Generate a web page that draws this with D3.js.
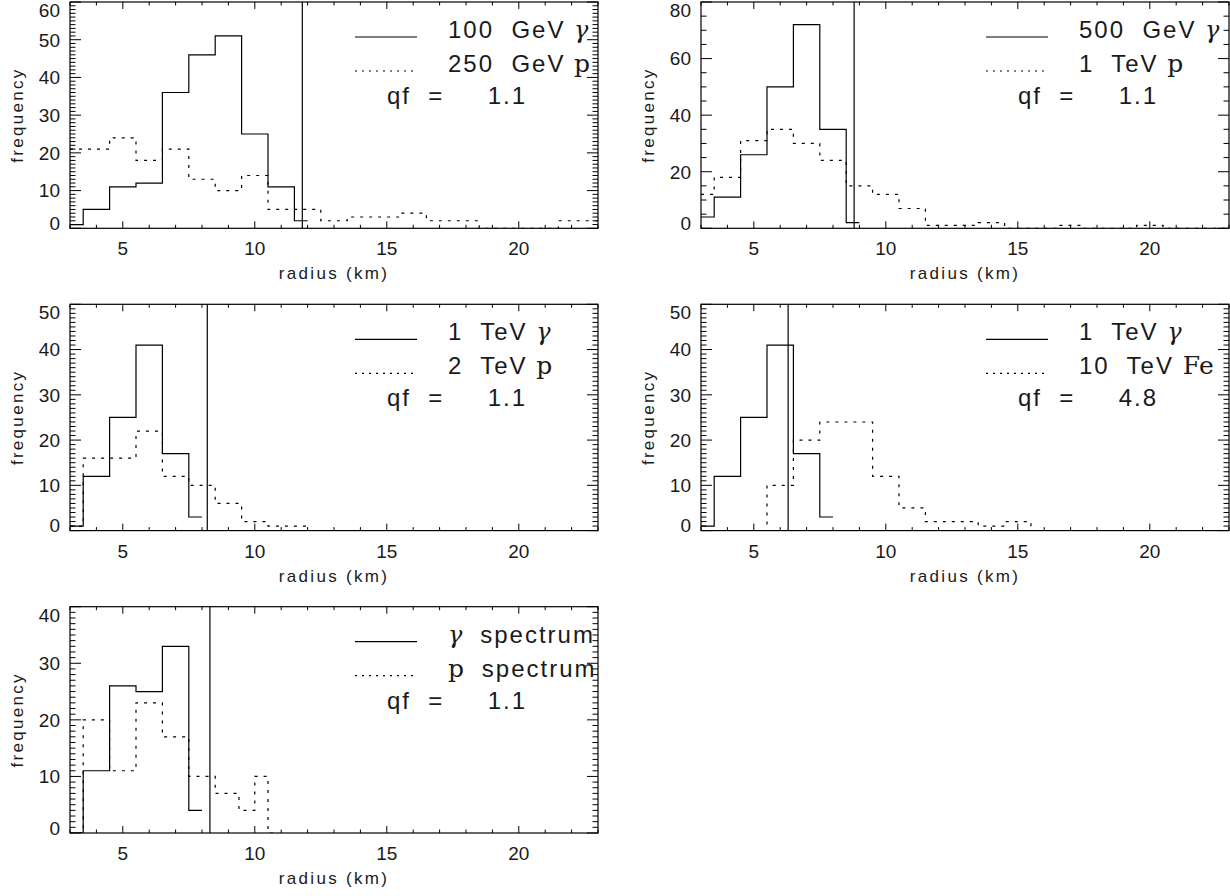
<!DOCTYPE html>
<html>
<head>
<meta charset="utf-8">
<script src="https://cdn.jsdelivr.net/npm/d3@7"></script>
<style>
	body { margin: 0; background: #fff; }
	svg text { font-family: "Liberation Sans", Arial, sans-serif; fill: #1a1a1a; }
</style>
</head>
<body>
<div id="chart"></div>
<script>
// radius axis (km), same for every panel
const radiusDomain = [3, 23];
const radiusTicks = [5, 10, 15, 20];

// panel 1: 100 GeV gamma vs 250 GeV proton
const p1GammaX = [3, 4, 5, 6, 7, 8, 9, 10, 11, 12];
const p1Gamma = [1, 5, 11, 12, 36, 46, 51, 25, 11, 2];
const p1HadronX = [3, 4, 5, 6, 7, 8, 9, 10, 11, 12, 13, 14, 15, 16, 17, 18, 19, 20, 21, 22, 23];
const p1Hadron = [21, 21, 24, 18, 21, 13, 10, 14, 5, 5, 2, 3, 3, 4, 2, 2, 0, 0, 0, 2, 2];
const p1Cut = 11.8;

// panel 2: 500 GeV gamma vs 1 TeV proton
const p2GammaX = [3, 4, 5, 6, 7, 8, 9];
const p2Gamma = [4, 11, 26, 50, 72, 35, 2];
const p2HadronX = [3, 4, 5, 6, 7, 8, 9, 10, 11, 12, 13, 14, 15, 16, 17, 18, 19, 20, 21, 22, 23];
const p2Hadron = [12, 18, 31, 35, 30, 24, 15, 12, 7, 1, 1, 2, 0, 0, 1, 0, 0, 1, 0, 0, 0];
const p2Cut = 8.8;

// panel 3: 1 TeV gamma vs 2 TeV proton
const p3GammaX = [3, 4, 5, 6, 7, 8];
const p3Gamma = [1, 12, 25, 41, 17, 3];
const p3HadronX = [3, 4, 5, 6, 7, 8, 9, 10, 11, 12];
const p3Hadron = [1, 16, 16, 22, 12, 10, 6, 2, 1, 1];
const p3Cut = 8.2;

// panel 4: 1 TeV gamma vs 10 TeV iron
const p4GammaX = [3, 4, 5, 6, 7, 8];
const p4Gamma = [1, 12, 25, 41, 17, 3];
const p4HadronX = [3, 4, 5, 6, 7, 8, 9, 10, 11, 12, 13, 14, 15, 16];
const p4Hadron = [0, 0, 0, 10, 20, 24, 24, 12, 5, 2, 2, 1, 2, 0];
const p4Cut = 6.3;

// panel 5: gamma spectrum vs proton spectrum
const p5GammaX = [3, 4, 5, 6, 7, 8];
const p5Gamma = [0, 11, 26, 25, 33, 4];
const p5HadronX = [3, 4, 5, 6, 7, 8, 9, 9.8, 10.2, 10.8];
const p5Hadron = [0, 20, 11, 23, 17, 10, 7, 4, 10, 0];
const p5Cut = 8.3;

// legend texts, {..} marks the particle symbol
const gammaLabels = ['100  GeV {γ}', '500  GeV {γ}', '1  TeV {γ}', '1  TeV {γ}', '{γ}  spectrum'];
const hadronLabels = ['250  GeV {p}', '1  TeV {p}', '2  TeV {p}', '10  TeV {Fe}', '{p}  spectrum'];
const qfValues = ['1.1', '1.1', '1.1', '4.8', '1.1'];
const yMaxValues = [60, 80, 50, 50, 40];

const panels = [
	{ left: 70, top: 2, yMajor: 10, yMinor: 1, gx: p1GammaX, gy: p1Gamma, hx: p1HadronX, hy: p1Hadron, cut: p1Cut },
	{ left: 701, top: 2, yMajor: 20, yMinor: 5, gx: p2GammaX, gy: p2Gamma, hx: p2HadronX, hy: p2Hadron, cut: p2Cut },
	{ left: 70, top: 304.3, yMajor: 10, yMinor: 1, gx: p3GammaX, gy: p3Gamma, hx: p3HadronX, hy: p3Hadron, cut: p3Cut },
	{ left: 701, top: 304.3, yMajor: 10, yMinor: 1, gx: p4GammaX, gy: p4Gamma, hx: p4HadronX, hy: p4Hadron, cut: p4Cut },
	{ left: 70, top: 606.7, yMajor: 10, yMinor: 1, gx: p5GammaX, gy: p5Gamma, hx: p5HadronX, hy: p5Hadron, cut: p5Cut },
].map((p, i) => ({ ...p, yMax: yMaxValues[i], gLabel: gammaLabels[i], hLabel: hadronLabels[i], qf: qfValues[i] }));

const config = {
	width: 1230,
	height: 896,
	plotW: 528,
	plotH: 226.3,
	stroke: 1.2,
	dots: '3,6',
	xMajorLen: 7,
	xMinorLen: 3.5,
	yMajorLen: 11,
	yMinorLen: 5.5,
};

const svg = d3.select('#chart')
	.append('svg')
	.attr('width', config.width)
	.attr('height', config.height);

// writes a legend string, switching to a serif face for the particle symbol
function legendText(sel, str) {
	str.split(/(\{[^}]*\})/).filter(s => s.length).forEach(s => {
		if (s[0] === '{') {
			const sym = s.slice(1, -1);
			const greek = sym === 'γ';
			sel.append('tspan')
				.style('font-family', '"DejaVu Serif", "Liberation Serif", serif')
				.style('font-style', greek ? 'italic' : 'normal')
				.style('font-size', greek ? '24px' : '25px')
				.style('letter-spacing', '0.5px')
				.text(sym);
		} else {
			sel.append('tspan').text(s);
		}
	});
}

panels.forEach((p, i) => {
	const right = p.left + config.plotW;
	const bottom = p.top + config.plotH;

	const x = d3.scaleLinear().domain(radiusDomain).range([p.left, right]);
	const y = d3.scaleLinear().domain([0, p.yMax]).range([bottom, p.top]);

	const g = svg.append('g').attr('class', 'panel');

	svg.append('clipPath').attr('id', 'clip' + i)
		.append('rect')
		.attr('x', p.left).attr('y', p.top)
		.attr('width', config.plotW).attr('height', config.plotH);

	const line = d3.line()
		.x(d => x(d[0]))
		.y(d => y(d[1]))
		.curve(d3.curveStep);

	const marks = g.append('g').attr('clip-path', `url(#clip${i})`);

	// hadron histogram, dotted
	marks.append('path')
		.datum(d3.zip(p.hx, p.hy))
		.attr('d', line)
		.attr('fill', 'none')
		.attr('stroke', '#000')
		.attr('stroke-width', config.stroke)
		.attr('stroke-dasharray', config.dots);

	// gamma histogram, solid
	marks.append('path')
		.datum(d3.zip(p.gx, p.gy))
		.attr('d', line)
		.attr('fill', 'none')
		.attr('stroke', '#000')
		.attr('stroke-width', config.stroke);

	// radius cut
	marks.append('line')
		.attr('x1', x(p.cut)).attr('x2', x(p.cut))
		.attr('y1', p.top).attr('y2', bottom)
		.attr('stroke', '#000')
		.attr('stroke-width', config.stroke);

	// frame
	g.append('rect')
		.attr('x', p.left).attr('y', p.top)
		.attr('width', config.plotW).attr('height', config.plotH)
		.attr('fill', 'none')
		.attr('stroke', '#000')
		.attr('stroke-width', config.stroke);

	// x ticks on bottom and top
	const xMinor = d3.range(radiusDomain[0], radiusDomain[1] + 0.001, 1);
	const ticks = g.append('g')
		.attr('stroke', '#000')
		.attr('stroke-width', 1);
	xMinor.forEach(v => {
		const len = radiusTicks.includes(v) ? config.xMajorLen : config.xMinorLen;
		ticks.append('line').attr('x1', x(v)).attr('x2', x(v)).attr('y1', bottom).attr('y2', bottom - len);
		ticks.append('line').attr('x1', x(v)).attr('x2', x(v)).attr('y1', p.top).attr('y2', p.top + len);
	});

	// y ticks on left and right
	const yMajor = d3.range(0, p.yMax + 0.001, p.yMajor);
	const yMinor = d3.range(0, p.yMax + 0.001, p.yMinor);
	yMinor.forEach(v => {
		const len = yMajor.includes(v) ? config.yMajorLen : config.yMinorLen;
		ticks.append('line').attr('x1', p.left).attr('x2', p.left + len).attr('y1', y(v)).attr('y2', y(v));
		ticks.append('line').attr('x1', right).attr('x2', right - len).attr('y1', y(v)).attr('y2', y(v));
	});

	// tick labels
	g.selectAll('.xlab')
		.data(radiusTicks)
		.join('text')
		.attr('class', 'xlab')
		.attr('x', d => x(d))
		.attr('y', bottom + 27)
		.attr('text-anchor', 'middle')
		.style('font-size', '19px')
		.text(d => d);

	g.selectAll('.ylab')
		.data(yMajor)
		.join('text')
		.attr('class', 'ylab')
		.attr('x', p.left - 10)
		.attr('y', d => Math.max(p.top + 8, Math.min(bottom - 5, y(d))))
		.attr('dy', '0.36em')
		.attr('text-anchor', 'end')
		.style('font-size', '19px')
		.text(d => d);

	// axis titles
	g.append('text')
		.attr('x', (p.left + right) / 2)
		.attr('y', bottom + 51)
		.attr('text-anchor', 'middle')
		.style('font-size', '17px')
		.style('letter-spacing', '2.3px')
		.text('radius (km)');

	g.append('text')
		.attr('transform', `translate(${p.left - 47},${(p.top + bottom) / 2}) rotate(-90)`)
		.attr('text-anchor', 'middle')
		.style('font-size', '17px')
		.style('letter-spacing', '2.3px')
		.text('frequency');

	// legend
	const leg = g.append('g')
		.style('font-size', '24px')
		.style('letter-spacing', '2px');

	leg.append('line')
		.attr('x1', p.left + 285).attr('x2', p.left + 347)
		.attr('y1', p.top + 35).attr('y2', p.top + 35)
		.attr('stroke', '#000').attr('stroke-width', config.stroke);
	leg.append('line')
		.attr('x1', p.left + 285).attr('x2', p.left + 347)
		.attr('y1', p.top + 69).attr('y2', p.top + 69)
		.attr('stroke', '#000').attr('stroke-width', config.stroke)
		.attr('stroke-dasharray', '2,5');

	leg.append('text')
		.attr('x', p.left + 378).attr('y', p.top + 36)
		.attr('xml:space', 'preserve')
		.style('white-space', 'pre')
		.call(legendText, p.gLabel);
	leg.append('text')
		.attr('x', p.left + 378).attr('y', p.top + 70)
		.attr('xml:space', 'preserve')
		.style('white-space', 'pre')
		.call(legendText, p.hLabel);
	leg.append('text')
		.attr('x', p.left + 317).attr('y', p.top + 102)
		.attr('xml:space', 'preserve')
		.style('white-space', 'pre')
		.text(`qf  =     ${p.qf}`);
});
</script>
</body>
</html>
